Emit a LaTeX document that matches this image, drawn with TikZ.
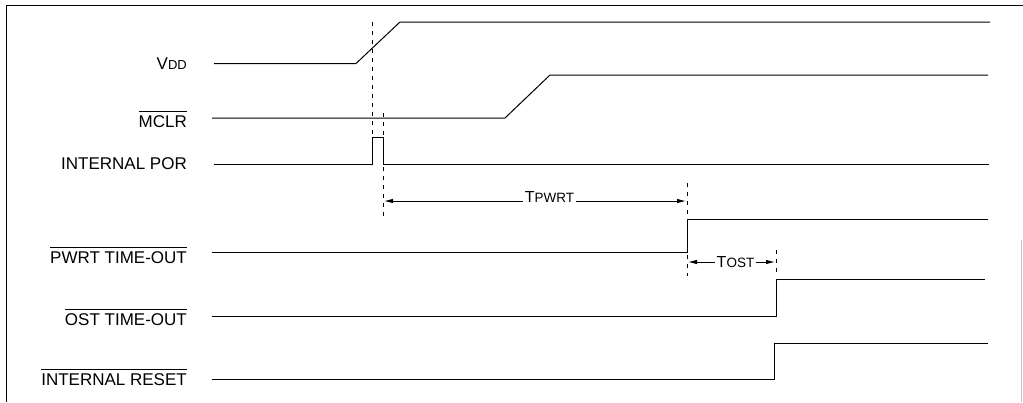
\documentclass[tikz,border=0pt]{standalone}
\usepackage{fontspec}
\setmainfont{Liberation Sans}
\usetikzlibrary{arrows.meta}
\newcommand\ovbar[1]{\leavevmode\vbox{\hrule height 0.9pt\kern 3.2pt\hbox{#1}}}
\tikzset{
  sig/.style={line width=1pt, line join=miter},
  lbl/.style={anchor=base east, inner sep=0pt, font=\fontsize{17}{20}\selectfont},
  guide/.style={line width=0.7pt, dash pattern=on 4pt off 5pt},
  dim/.style={line width=0.9pt, {Latex[length=9pt,width=4.5pt]}-{Latex[length=9pt,width=4.5pt]}},
  frame/.style={line width=1pt}
}
\begin{document}
\begin{tikzpicture}[x=1pt,y=-1pt]
\useasboundingbox (0,0) rectangle (1023,402);
% frame
\draw[frame] (6,402) -- (6,5) -- (1023,5);
\draw[line width=0.6pt, gray!45] (1021,240) -- (1021,402);

% labels
\node[lbl] (lvdd) at (187,69.5) {V{\fontsize{13}{15}\selectfont DD}};
\node[lbl] (lmclr) at (187,127) {\ovbar{MCLR}};
\node[lbl] (lpor) at (187,169) {INTERNAL POR};
\node[lbl] (lpwrt) at (187,263) {\ovbar{PWRT TIME-OUT}};
\node[lbl] (lost) at (187,325) {\ovbar{OST TIME-OUT}};
\node[lbl] (lrst) at (187,385) {\ovbar{INTERNAL RESET}};

% waveforms
\draw[sig] (214,63.5) -- (356,63.5) -- (400,22) -- (990,22);
\draw[sig] (212,118) -- (505,118) -- (550,75) -- (988,75);
\draw[sig] (214,164) -- (372,164) -- (372,137) -- (383,137) -- (383,164) -- (989,164);
\draw[sig] (212,252) -- (687,252) -- (687,219) -- (988,219);
\draw[sig] (212,316) -- (776,316) -- (776,279) -- (985,279);
\draw[sig] (212,379) -- (774,379) -- (774,343) -- (988,343);

% guide lines
\coordinate (g1t) at (372,22);   \coordinate (g1b) at (372,166);
\coordinate (g2t) at (383,113);  \coordinate (g2b) at (383,217);
\coordinate (g3t) at (687,183);  \coordinate (g3b) at (687,276);
\coordinate (g4t) at (776,250);  \coordinate (g4b) at (776,276);
\draw[guide] (g1t) -- (g1b);
\draw[guide] (g2t) -- (g2b);
\draw[guide] (g3t) -- (g3b);
\draw[guide] (g4t) -- (g4b);

% timing dimensions
\coordinate (a1) at (384,201);  \coordinate (a2) at (686,201);
\draw[dim] (a1) -- (a2);
\node[fill=white, inner sep=1.5pt, anchor=base] (tpwrt) at (549.5,202.5)
  {\fontsize{16}{18}\selectfont T\fontsize{13.5}{15}\selectfont PWRT};
\coordinate (b1) at (688,262);  \coordinate (b2) at (775,262);
\draw[dim] (b1) -- (b2);
\node[fill=white, inner sep=2pt, anchor=base] (tost) at (735.5,267)
  {\fontsize{16}{18}\selectfont T\fontsize{13.5}{15}\selectfont OST};
\end{tikzpicture}
\end{document}
